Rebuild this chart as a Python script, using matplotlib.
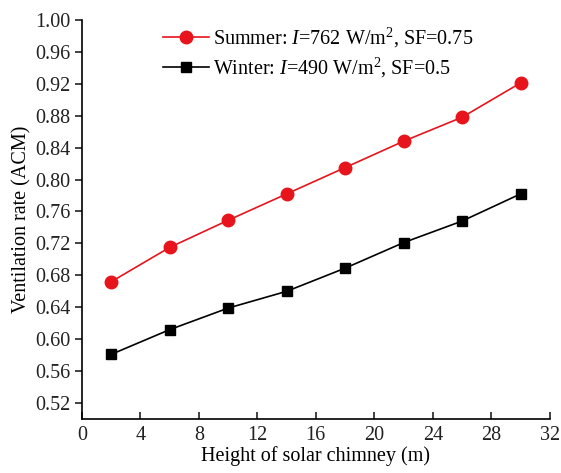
import matplotlib
matplotlib.use("Agg")
import matplotlib.pyplot as plt

plt.rcParams['font.family'] = ['Liberation Serif', 'DejaVu Serif']
plt.rcParams['mathtext.fontset'] = 'custom'
plt.rcParams['mathtext.rm'] = 'Liberation Serif'
plt.rcParams['mathtext.it'] = 'Liberation Serif:italic'

# data
height = [2, 6, 10, 14, 18, 22, 26, 30]
summer = [0.672, 0.715, 0.749, 0.782, 0.815, 0.848, 0.878, 0.921]
winter = [0.581, 0.612, 0.639, 0.660, 0.689, 0.721, 0.748, 0.782]

fs = 14.5
fig = plt.figure(figsize=(5.61, 4.73), dpi=100)
ax = fig.add_axes([0.146, 0.114, 0.834, 0.844])

ax.plot(height, summer, color='#e8141b', marker='o', markersize=9, lw=1.2,
        label=r'Summer: $I$=762 W/m$^2$, SF=0.75')
ax.plot(height, winter, color='black', marker='s', markersize=7, lw=1.2,
        label=r'Winter: $I$=490 W/m$^2$, SF=0.5')

ax.set_xlim(0, 32)
ax.set_ylim(0.50, 1.00)
ax.set_xticks(range(0, 33, 4))
ax.set_yticks([0.52 + 0.04 * i for i in range(13)])
ax.set_yticklabels(['%.2f' % (0.52 + 0.04 * i) for i in range(13)])

for s in ['top', 'right']:
    ax.spines[s].set_visible(False)
for s in ['left', 'bottom']:
    ax.spines[s].set_linewidth(1.2)
ax.tick_params(axis='y', direction='out', length=5, width=1.2, labelsize=fs,
               colors='#222222', pad=3)
ax.tick_params(axis='x', direction='in', length=5, width=1.2, labelsize=fs,
               colors='#222222', pad=5)

ax.set_xlabel('Height of solar chimney (m)', fontsize=fs, labelpad=1)
ax.set_ylabel('Ventilation rate (ACM)', fontsize=fs, labelpad=3)

ax.legend(loc='upper left', bbox_to_anchor=(0.173, 0.985), frameon=False,
          fontsize=fs, handlelength=2.3, handletextpad=0.2, labelspacing=0.3,
          borderpad=0, borderaxespad=0)

fig.savefig('out.png', dpi=100)
